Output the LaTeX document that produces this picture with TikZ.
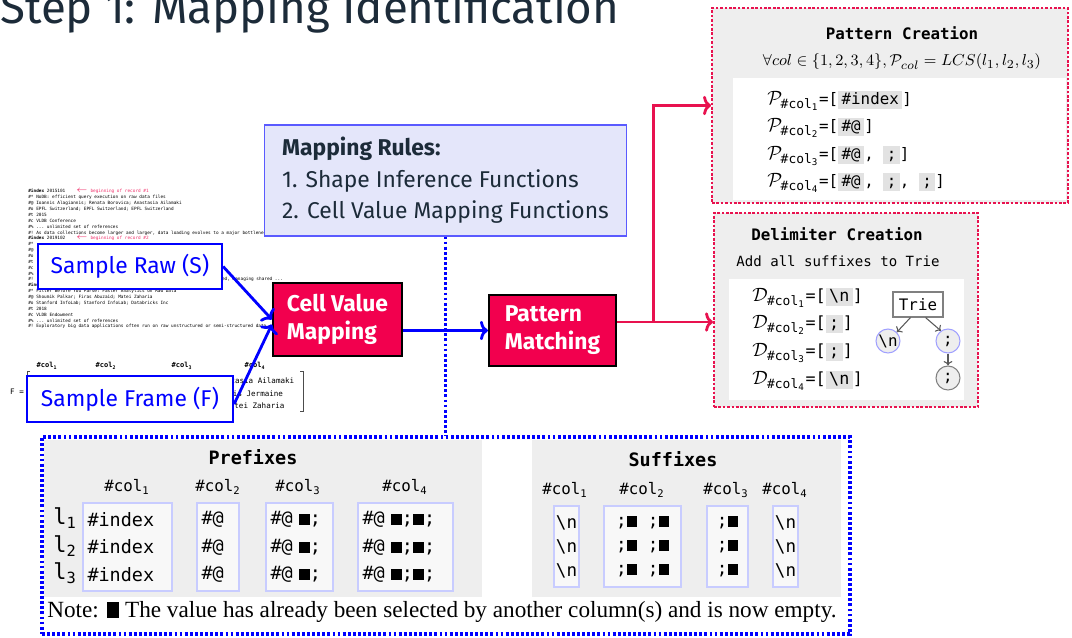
\documentclass[tikz,border=0pt]{standalone}
\usepackage{amsmath}
\usepackage{fontspec}
\setmainfont{Liberation Serif}
\setsansfont{Fira Sans}
\setmonofont{DejaVu Sans Mono}
\usetikzlibrary{arrows.meta,positioning}
\definecolor{crimson}{HTML}{F2004E}
\definecolor{linered}{HTML}{E8124F}
\definecolor{slate}{HTML}{1C2B39}
\definecolor{rulefill}{HTML}{E4E6FA}
\definecolor{ruledraw}{HTML}{5A5AFF}
\definecolor{panelgray}{HTML}{EEEEEE}
\definecolor{cellfill}{HTML}{F8F8F8}
\definecolor{celldraw}{HTML}{C8CCFF}
\definecolor{hlgray}{HTML}{E2E2E2}
\definecolor{recred}{HTML}{F0306A}
\definecolor{triedraw}{HTML}{A0A0FF}
% gray highlight around a pattern token
\newcommand{\hlbox}[1]{{\setlength{\fboxsep}{0pt}\colorbox{hlgray}{\rule[-2.2pt]{0pt}{10pt}\hspace{2pt}#1\hspace{2pt}}}}
\newcommand{\colsub}[1]{\#col$_{\text{#1}}$}
\newcommand{\setsym}[2]{{\fontsize{10.5}{12}\selectfont$\mathcal{#1}_{\text{\ttfamily\#col}_{\text{\ttfamily #2}}}$}}
% black square for an emptied value, one mono cell wide
\newcommand{\blk}{\makebox[0.602em]{\rule[-0.3pt]{0.58em}{0.6em}}}

\begin{document}
\begin{tikzpicture}[x=0.02cm, y=-0.02cm,
    rawtext/.style={anchor=north west, inner sep=0, align=left, font=\ttfamily\fontsize{2.5}{3.34}\selectfont},
    frametext/.style={inner sep=0, font=\ttfamily\fontsize{4.3}{5}\selectfont},
    samplebox/.style={draw=blue, line width=1.3pt, fill=white, text=blue, font=\sffamily\fontsize{13}{15}\selectfont},
    stepbox/.style={draw=black, line width=1.3pt, fill=crimson, text=white, align=left, font=\sffamily\bfseries\fontsize{13}{16}\selectfont},
    panel/.style={fill=panelgray, inner sep=0},
    paneltitle/.style={font=\ttfamily\bfseries\fontsize{10.5}{12}\selectfont},
    colhead/.style={font=\ttfamily\fontsize{9}{11}\selectfont},
    rowlabel/.style={font=\ttfamily\fontsize{12.5}{14}\selectfont},
    cellbox/.style={draw=celldraw, fill=cellfill, line width=0.6pt, inner xsep=0.09cm, align=left, minimum height=1.76cm, font=\ttfamily\fontsize{10.5}{15.6}\selectfont},
    sufbox/.style={draw=celldraw, fill=cellfill, line width=0.6pt, align=center, minimum height=1.62cm, inner sep=0, font=\ttfamily\fontsize{10}{13.7}\selectfont},
    patline/.style={anchor=west, inner sep=0, font=\ttfamily\fontsize{9}{11}\selectfont},
    delline/.style={anchor=west, inner sep=0, font=\ttfamily\fontsize{9.5}{11}\selectfont},
    trienode/.style={circle, minimum size=0.48cm, inner sep=0, fill=panelgray, draw=triedraw, line width=0.6pt, font=\ttfamily\fontsize{9}{11}\selectfont},
    triearrow/.style={draw=black!65, line width=0.6pt, -{To[length=2.5pt,width=5pt]}},
    blueflow/.style={draw=blue, line width=1.6pt, -{To[length=4.5pt,width=11pt]}},
    redflow/.style={draw=linered, line width=1.6pt},
    bluedots/.style={draw=blue, line width=1.8pt, dash pattern=on 1.6pt off 1.3pt},
    reddots/.style={draw=linered, line width=1.2pt, dash pattern=on 1.5pt off 1pt},
  ]
  \useasboundingbox (0,0) rectangle (1072,637);

  \node[anchor=base west, inner sep=0, text=slate, font=\sffamily\fontsize{26}{30}\selectfont] (title) at (0,23) {Step 1: Mapping Identification};

  % raw input records
  \node[rawtext] (raw) at (28,189) {%
    \textbf{\#index} 2015101~~~~\textcolor{recred}{$\leftarrow$ beginning of record \#1}\\
    \#* NoDB: efficient query execution on raw data files\\
    \#@ Ioannis Alagiannis; Renata Borovica; Anastasia Ailamaki\\
    \#o EPFL Switzerland; EPFL Switzerland; EPFL Switzerland\\
    \#t 2015\\
    \#c VLDB Conference\\
    \#\% ... unlimited set of references\\
    \#! As data collections become larger and larger, data loading evolves to a major bottleneck\\
    \textbf{\#index} 2019102~~~~\textcolor{recred}{$\leftarrow$ beginning of record \#2}\\
    \#*\\ \#@\\ \#o\\ \#t\\ \#c\\ \#\%\\
    \#!\hspace{3.77cm}ed, managing shared ...\\
    \textbf{\#index}\\
    \#* Filter Before You Parse: Faster Analytics on Raw Data\\
    \#@ Shoumik Palkar; Firas Abuzaid; Matei Zaharia\\
    \#o Stanford InfoLab; Stanford InfoLab; Databricks Inc\\
    \#t 2018\\
    \#c VLDB Endowment\\
    \#\% ... unlimited set of references\\
    \#! Exploratory big data applications often run on raw unstructured or semi-structured data};

  % sample frame matrix
  \node[frametext] (feq) at (17,392) {F =};
  \draw[line width=0.4pt, black!70] (30,371) -| (27,411) -- (30,411);
  \draw[line width=0.4pt, black!70] (300,371) -| (303,411) -- (300,411);
  \node[frametext, font=\ttfamily\bfseries\fontsize{4}{5}\selectfont] (fc1) at (47,366) {\colsub{1}};
  \node[frametext, font=\ttfamily\bfseries\fontsize{4}{5}\selectfont] (fc2) at (106,366) {\colsub{2}};
  \node[frametext, font=\ttfamily\bfseries\fontsize{4}{5}\selectfont] (fc3) at (182,366) {\colsub{3}};
  \node[frametext, font=\ttfamily\bfseries\fontsize{4}{5}\selectfont] (fc4) at (255,366) {\colsub{4}};
  \node[frametext, anchor=west] (fr1) at (212,381) {Anastasia Ailamaki};
  \node[frametext, anchor=west] (fr2) at (219,394) {Chris Jermaine};
  \node[frametext, anchor=west] (fr3) at (225,406) {Matei Zaharia};

  \node[samplebox, minimum width=3.68cm, minimum height=0.9cm] (raws) at (130,266.5) {Sample Raw (S)};
  \node[samplebox, minimum width=4.12cm, minimum height=0.92cm] (frames) at (130,399) {Sample Frame (F)};

  \node[draw=ruledraw, fill=rulefill, line width=0.6pt, minimum width=7.26cm, minimum height=2.22cm, align=left, text=slate, font=\sffamily\fontsize{13}{17.9}\selectfont] (rules) at (445.5,180.5) {\textbf{Mapping Rules:}\\1. Shape Inference Functions\\2. Cell Value Mapping Functions};

  \node[stepbox, minimum width=2.58cm, minimum height=1.46cm] (cvm) at (337.5,319.5) {Cell Value\\Mapping};
  \node[stepbox, minimum width=2.54cm, minimum height=1.42cm] (pm) at (552.5,330.5) {Pattern\\Matching};

  \draw[blueflow] (raws.east) -- (cvm.west);
  \draw[blueflow] ([yshift=-0.1cm]frames.east) -- ([yshift=-0.1cm]cvm.west);
  \draw[blueflow] (cvm.east |- pm.west) -- (pm.west);

  % prefixes and suffixes
  \node[bluedots, fill=white, minimum width=16.16cm, minimum height=3.94cm] (outer) at (446,535.5) {};
  \draw[bluedots] (rules.south) -- (rules.south |- outer.north);
  \node[panel, minimum width=8.76cm, minimum height=3.14cm] (prepanel) at (263,518.5) {};
  \node[panel, minimum width=6.18cm, minimum height=3.14cm] (sufpanel) at (686.5,518.5) {};

  \node[paneltitle] (pretitle) at (253,457) {Prefixes};
  \node[colhead] (ph1) at (127,487) {\colsub{1}};
  \node[colhead] (ph2) at (218,487) {\colsub{2}};
  \node[colhead] (ph3) at (298,487) {\colsub{3}};
  \node[colhead] (ph4) at (405,487) {\colsub{4}};
  \node[rowlabel] (l1) at (65,518) {l$_{\text{1}}$};
  \node[rowlabel] (l2) at (65,546) {l$_{\text{2}}$};
  \node[rowlabel] (l3) at (65,573) {l$_{\text{3}}$};
  \node[cellbox, text width=1.6cm] (pre1) at (127.5,547) {\#index\\\#index\\\#index};
  \node[cellbox, text width=0.66cm] (pre2) at (218,547) {\#@\\\#@\\\#@};
  \node[cellbox, text width=1.16cm] (pre3) at (299.5,547) {\#@ \blk;\\\#@ \blk;\\\#@ \blk;};
  \node[cellbox, text width=1.72cm] (pre4) at (405.5,547) {\#@ \blk;\blk;\\\#@ \blk;\blk;\\\#@ \blk;\blk;};

  \node[paneltitle] (suftitle) at (673,459) {Suffixes};
  \node[colhead] (sh1) at (565,490) {\colsub{1}};
  \node[colhead] (sh2) at (642,490) {\colsub{2}};
  \node[colhead] (sh3) at (726,490) {\colsub{3}};
  \node[colhead] (sh4) at (785,490) {\colsub{4}};
  \node[sufbox, minimum width=0.5cm] (suf1) at (566.5,546.5) {\textbackslash n\\\textbackslash n\\\textbackslash n};
  \node[sufbox, minimum width=1.54cm] (suf2) at (642.5,546.5) {;\blk{} ;\blk\\;\blk{} ;\blk\\;\blk{} ;\blk};
  \node[sufbox, minimum width=0.82cm] (suf3) at (727.5,546.5) {;\blk\\;\blk\\;\blk};
  \node[sufbox, minimum width=0.5cm] (suf4) at (785.5,546.5) {\textbackslash n\\\textbackslash n\\\textbackslash n};

  \node[anchor=west, inner sep=0, font=\rmfamily\fontsize{13.2}{15}\selectfont] (note) at (47,612) {Note: \rule[-0.5pt]{0.55em}{0.7em} The value has already been selected by another column(s) and is now empty.};

  % pattern creation
  \node[reddots, fill=panelgray, minimum width=7.12cm, minimum height=3.9cm] (pc) at (890,105.5) {};
  \fill[white] (733,78) rectangle (1066,200);
  \node[font=\ttfamily\bfseries\fontsize{9}{11}\selectfont] (pctitle) at (902,33) {Pattern Creation};
  \node[font=\fontsize{9.3}{11}\selectfont] (pcrule) at (902,62) {$\forall col \in \{1,2,3,4\}, \mathcal{P}_{col} = LCS(l_1, l_2, l_3)$};
  \node[patline] (pat1) at (767,101) {\setsym{P}{1}=[\hlbox{\#index}]};
  \node[patline] (pat2) at (767,128) {\setsym{P}{2}=[\hlbox{\#@}]};
  \node[patline] (pat3) at (767,156) {\setsym{P}{3}=[\hlbox{\#@}, \hlbox{;}]};
  \node[patline] (pat4) at (767,183) {\setsym{P}{4}=[\hlbox{\#@}, \hlbox{;}, \hlbox{;}]};

  % delimiter creation
  \node[reddots, fill=panelgray, minimum width=5.28cm, minimum height=3.88cm] (dc) at (846,310) {};
  \fill[white] (729,279) rectangle (964,400);
  \node[font=\ttfamily\bfseries\fontsize{9}{11}\selectfont] (dctitle) at (837,234) {Delimiter Creation};
  \node[font=\ttfamily\fontsize{8}{10}\selectfont] (dcsub) at (838,261) {Add all suffixes to Trie};
  \node[delline] (del1) at (752,298) {\setsym{D}{1}=[\hlbox{\textbackslash n}]};
  \node[delline] (del2) at (752,325) {\setsym{D}{2}=[\hlbox{;}]};
  \node[delline] (del3) at (752,353) {\setsym{D}{3}=[\hlbox{;}]};
  \node[delline] (del4) at (752,381) {\setsym{D}{4}=[\hlbox{\textbackslash n}]};
  \node[draw=gray, fill=white, line width=0.6pt, minimum width=1cm, minimum height=0.5cm, inner sep=0, font=\ttfamily\fontsize{9}{11}\selectfont] (trie) at (918,304.5) {Trie};
  \node[trienode] (tn) at (888,341) {\textbackslash n};
  \node[trienode] (ts1) at (948,341) {;};
  \node[trienode, draw=gray] (ts2) at (948,378) {;};
  \draw[triearrow] (trie.240) -- (tn.45);
  \draw[triearrow] (trie.300) -- (ts1.125);
  \draw[triearrow] (ts1.south) -- (ts2.north);

  \draw[redflow, -{To[length=4.5pt,width=11pt]}] ([yshift=0.17cm]pm.east) -- ++(36,0) coordinate (fork) |- (pc.west);
  \draw[redflow, -{To[length=4.5pt,width=11pt]}] (fork) -- (fork -| dc.west);
\end{tikzpicture}
\end{document}
